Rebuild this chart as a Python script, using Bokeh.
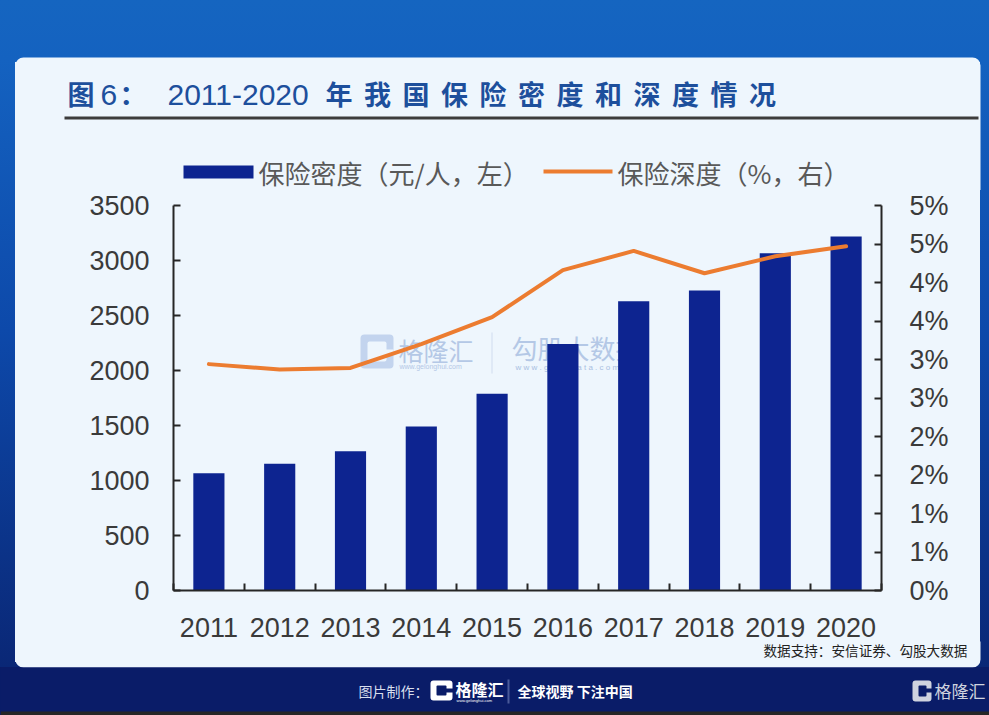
from bokeh.plotting import figure
from bokeh.layouts import column, row
from bokeh.models import (BoxAnnotation, Label, LinearAxis, Range1d, FixedTicker,
                          GlobalInlineStyleSheet, Spacer)
from bokeh.core.properties import value
from bokeh.embed import file_html
from bokeh.resources import INLINE

# ---------------- data ----------------
years = ["2011", "2012", "2013", "2014", "2015", "2016", "2017", "2018", "2019", "2020"]
density = [1066, 1152, 1266, 1491, 1788, 2242, 2630, 2727, 3066, 3218]      # 元/人, left axis
depth = [2.94, 2.87, 2.89, 3.20, 3.55, 4.16, 4.41, 4.12, 4.34, 4.47]         # %, right axis
left_ticks = [0, 500, 1000, 1500, 2000, 2500, 3000, 3500]
right_ticks = [0, 0.5, 1, 1.5, 2, 2.5, 3, 3.5, 4, 4.5, 5]
right_tick_labels = ["0%", "1%", "1%", "2%", "2%", "3%", "3%", "4%", "4%", "5%", "5%"]
title_head = ["图", "6", "：", "2011-2020"]
title_tail = "年我国保险密度和深度情况"
legend_labels = ["保险密度（元/人，左）", "保险深度（%，右）"]
source_text = "数据支持：安信证券、勾股大数据"
footer_left = "图片制作："
footer_slogan = "全球视野 下注中国"
brand = "格隆汇"

# ---------------- style ----------------
PW, PH = 989, 715
PANEL = "#eef6fd"
BAR = "#0d2490"
ORANGE = "#ec7c30"
NAVY = "#0a1c68"
CJK = "Noto Sans CJK SC"
LAT = "Liberation Sans"
TICK_COLOR = "#3a3a3a"
TITLE_BLUE = "#1d4f9c"
AX = "#262626"

HEAD_H = 190          # page y 0..190
MAIN_TOP, MAIN_BOT = 190, 641
MAIN_L, MAIN_R = 15, 980
BOT_H = PH - MAIN_BOT  # page y 641..715

css = GlobalInlineStyleSheet(css=(
    "html{background:"
    "linear-gradient(#eef6fd,#eef6fd) 15px 62px/965px 600px no-repeat,"
    "linear-gradient(to bottom,#1565c0 0px,#1462c0 60px,#0d49aa 330px,"
    "#0a2776 667px,#0a1c68 667px) no-repeat;overflow:hidden;}"
    "body{background:transparent;overflow:hidden;}"))


def deco_fig(w, h):
    f = figure(width=w, height=h, output_backend="svg", toolbar_location=None, title=None,
               x_range=Range1d(0, w), y_range=Range1d(0, h),
               x_axis_type=None, y_axis_type=None, min_border=0,
               border_fill_alpha=0, background_fill_alpha=0, outline_line_color=None)
    f.grid.visible = False
    return f


def box(f, top_page, L, R, T, B, color, radius=0, alpha=1.0):
    # page coordinates -> figure data coordinates (y up)
    f.add_layout(BoxAnnotation(left=L, right=R, top=top_page[1] - T, bottom=top_page[1] - B,
                               fill_color=color, fill_alpha=alpha, line_color=None,
                               level="underlay", border_radius=radius, editable=False))


def txt(f, top_page, xs_, ys_, texts, size, color, font=CJK, style="normal", align="left"):
    f.text(x=xs_, y=[top_page[1] - y for y in ys_], text=texts,
           text_font=value(font), text_font_size=value(f"{size}px"), text_color=color,
           text_font_style=style, text_align=align, text_baseline="middle")


# ---------------- header (page y 0..190) ----------------
head = deco_fig(PW, HEAD_H)
H0 = (0, HEAD_H)   # data y = HEAD_H - page_y
box(head, H0, MAIN_L, MAIN_R, 57, 400, PANEL, radius=8)
txt(head, H0, [67, 119], [93, 93], [title_head[0], title_head[2]], 27, TITLE_BLUE, style="bold")
txt(head, H0, [100, 167], [94, 94], [title_head[1], title_head[3]], 30, TITLE_BLUE, font=LAT)
txt(head, H0, [325 + i * 38.5 for i in range(len(title_tail))], [93] * len(title_tail),
    list(title_tail), 27, TITLE_BLUE, style="bold")
box(head, H0, 64, 978, 116, 119, "#3c3c3c")
box(head, H0, 183, 253, 165, 178, BAR)
box(head, H0, 543, 612, 169, 173, ORANGE)
txt(head, H0, [258, 617], [172, 172], legend_labels, 26, "#595959")
head.stylesheets = [css]

# ---------------- main chart (page y 190..641, x 15..980) ----------------
xs = [i + 1 for i in range(len(years))]
p = figure(width=MAIN_R - MAIN_L, height=MAIN_BOT - MAIN_TOP, output_backend="svg",
           toolbar_location=None, title=None,
           x_range=Range1d(0.5, len(years) + 0.5), y_range=Range1d(0, 3500),
           min_border_left=173 - MAIN_L, min_border_right=MAIN_R - 881,
           min_border_top=205 - MAIN_TOP, min_border_bottom=MAIN_BOT - 590,
           background_fill_color=PANEL, border_fill_color=PANEL, outline_line_color=None)
p.grid.visible = False


def wlabel(X, Y, text, size, color, font=CJK):
    p.add_layout(Label(x=X - MAIN_L, y=Y - MAIN_TOP, x_units="canvas", y_units="canvas",
                       text=text, text_font=font, text_font_size=f"{size}px",
                       text_color=color, text_align="left", text_baseline="middle",
                       level="underlay"))


def wbox(L, R, T, B, color, radius=0, alpha=1.0):
    p.add_layout(BoxAnnotation(left=L - MAIN_L, right=R - MAIN_L, top=T - MAIN_TOP,
                               bottom=B - MAIN_TOP, left_units="canvas", right_units="canvas",
                               top_units="canvas", bottom_units="canvas",
                               fill_color=color, fill_alpha=alpha, line_color=None,
                               level="underlay", border_radius=radius, editable=False))


# faint watermark
wbox(360, 393, 334, 368, "#c3d4ee", radius=4)
wbox(367, 386, 341, 361, PANEL, radius=2)
wbox(380, 393, 349, 355, PANEL)
wlabel(398, 349, brand, 25, "#b4c8e6")
wlabel(399, 366, "www.gelonghui.com", 7, "#b4c8e6", font=LAT)
wbox(491, 492, 332, 373, "#cfdbef")
wlabel(511, 347, "勾股大数据", 26, "#b4c8e6")
wlabel(515, 367, "w w w . g o g u d a t a . c o m", 8, "#a9bfe2", font=LAT)

p.vbar(x=xs, top=density, width=0.44, fill_color=BAR, line_color=None)
p.extra_y_ranges = {"pct": Range1d(0, 5)}
p.line(x=xs, y=depth, y_range_name="pct", line_color=ORANGE, line_width=4,
       line_join="round", line_cap="round")

xa = p.xaxis[0]
xa.ticker = FixedTicker(ticks=xs, minor_ticks=[i + 0.5 for i in range(len(years) + 1)])
xa.major_label_overrides = {x: y for x, y in zip(xs, years)}
xa.major_tick_line_color = None
xa.major_tick_out = 0
xa.major_tick_in = 0
xa.minor_tick_in = 7
xa.minor_tick_out = 0
xa.minor_tick_line_color = AX
xa.minor_tick_line_width = 2
xa.axis_line_color = AX
xa.axis_line_width = 2
xa.major_label_text_font = LAT
xa.major_label_text_font_size = "27px"
xa.major_label_text_color = TICK_COLOR
xa.major_label_standoff = 27

ya = p.yaxis[0]
ya.ticker = FixedTicker(ticks=left_ticks, minor_ticks=[])
ya.major_tick_in = 7
ya.major_tick_out = 0
ya.major_tick_line_color = AX
ya.major_tick_line_width = 2
ya.minor_tick_line_color = None
ya.axis_line_color = AX
ya.axis_line_width = 2
ya.major_label_text_font = LAT
ya.major_label_text_font_size = "27px"
ya.major_label_text_color = TICK_COLOR
ya.major_label_standoff = 24

ra = LinearAxis(y_range_name="pct",
                ticker=FixedTicker(ticks=right_ticks, minor_ticks=[]),
                major_label_overrides={t: s for t, s in zip(right_ticks, right_tick_labels)})
ra.major_tick_in = 7
ra.major_tick_out = 0
ra.major_tick_line_color = AX
ra.major_tick_line_width = 2
ra.minor_tick_line_color = None
ra.axis_line_color = AX
ra.axis_line_width = 2
ra.major_label_text_font = LAT
ra.major_label_text_font_size = "27px"
ra.major_label_text_color = TICK_COLOR
ra.major_label_standoff = 28
p.add_layout(ra, "right")

# ---------------- bottom (page y 641..715) ----------------
bot = deco_fig(PW, BOT_H)
B0 = (0, PH)   # data y = PH - page_y
box(bot, B0, MAIN_L, MAIN_R, 560, 667, PANEL, radius=8)
box(bot, B0, 0, PW, 667, 711, NAVY)
box(bot, B0, 0, PW, 711, 715, "#262626")
txt(bot, B0, [763], [649], [source_text], 13.6, "#222222")
txt(bot, B0, [358], [690], [footer_left], 14, "#d8deee")
# brand logo (centre)
box(bot, B0, 430, 452, 680, 700, "#ffffff", radius=3)
box(bot, B0, 436, 446, 685, 695, NAVY, radius=1)
box(bot, B0, 441, 453, 688, 692, NAVY)
txt(bot, B0, [455], [688], [brand], 16, "#ffffff", style="bold")
txt(bot, B0, [456], [700], ["www.gelonghui.com"], 4, "#ffffff", font=LAT)
box(bot, B0, 507, 509, 679, 703, "#4a5a99")
txt(bot, B0, [517], [690], [footer_slogan], 14, "#ffffff", style="bold")
# brand logo (bottom right)
box(bot, B0, 912, 931, 680, 701, "#cfd3df", radius=3)
box(bot, B0, 918, 926, 685, 696, NAVY, radius=1)
box(bot, B0, 922, 932, 688, 692, NAVY)
txt(bot, B0, [934], [690], [brand], 17, "#cfd3df")

layout = column(head,
                row(Spacer(width=MAIN_L, height=MAIN_BOT - MAIN_TOP), p,
                    Spacer(width=PW - MAIN_R, height=MAIN_BOT - MAIN_TOP)),
                bot)

open("out.html", "w").write(file_html(layout, INLINE))
